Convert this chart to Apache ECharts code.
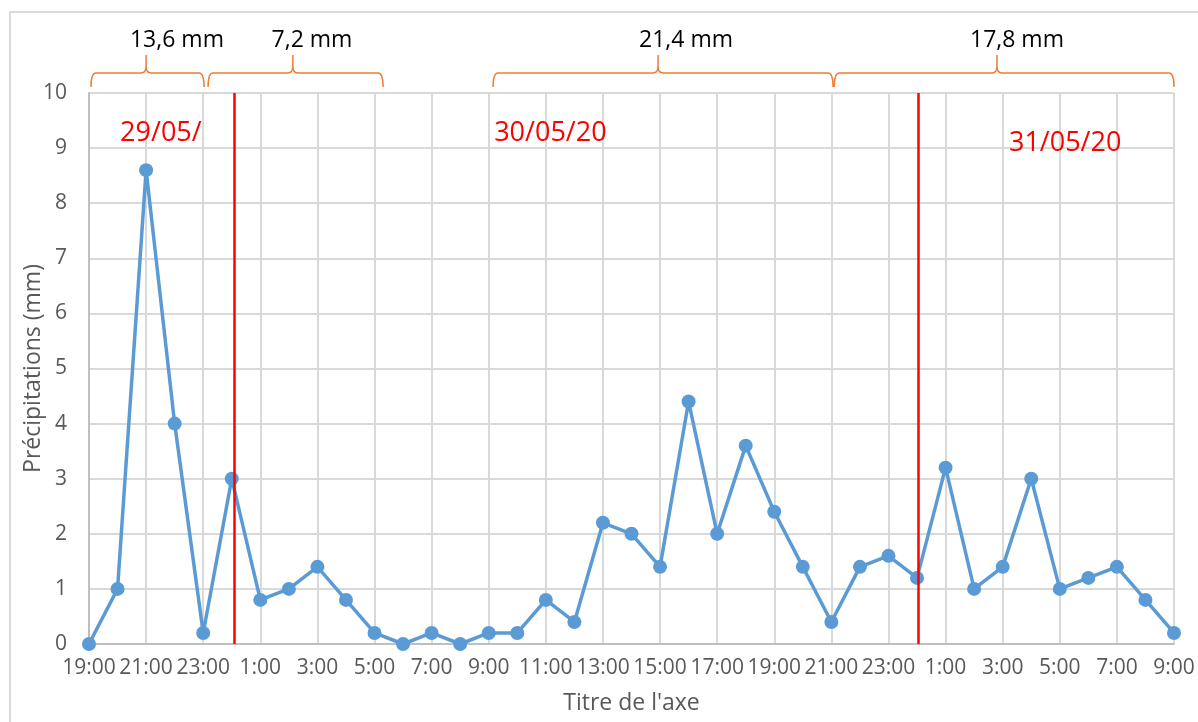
<!DOCTYPE html>
<html><head><meta charset="utf-8">
<script src="https://cdn.jsdelivr.net/npm/echarts@6/dist/echarts.min.js"></script>
<style>html,body{margin:0;padding:0;background:#fff}#c{width:1198px;height:722px}</style>
</head><body><div id="c"></div>
<script>
// Hourly categories (29/05 19:00 -> 31/05 9:00)
const hours = ['19:00','20:00','21:00','22:00','23:00','0:00','1:00','2:00','3:00','4:00','5:00','6:00','7:00','8:00','9:00','10:00','11:00','12:00','13:00','14:00','15:00','16:00','17:00','18:00','19:00','20:00','21:00','22:00','23:00','0:00','1:00','2:00','3:00','4:00','5:00','6:00','7:00','8:00','9:00'];
const precip = [0,1,8.6,4,0.2,3,0.8,1,1.4,0.8,0.2,0,0.2,0,0.2,0.2,0.8,0.4,2.2,2,1.4,4.4,2,3.6,2.4,1.4,0.4,1.4,1.6,1.2,3.2,1,1.4,3,1,1.2,1.4,0.8,0.2];
const yTicks = {min:0, max:10, interval:1};
// Bracket annotations (positions in category-index units)
const braceLabels = ['13,6 mm','7,2 mm','21,4 mm','17,8 mm'];
const braceStart = [0.07, 4.17, 14.15, 26.1];
const braceEnd = [4.03, 10.3, 26.06, 38];
const bracePeak = [2, 7.14, 19.93, 31.8];
const braceLabelX = [3.08, 7.81, 20.91, 32.5];
// Day markers
const dayLabels = ['29/05/','30/05/20','31/05/20'];
const dayLabelX = [1.09, 14.19, 32.22];
const dayLabelY = [9.27, 9.27, 9.09];
const midnightX = [5.08, 29.06];

const chart = echarts.init(document.getElementById('c'));
const FONT = '"Open Sans", sans-serif';
chart.setOption({
  animation:false,
  graphic:[{type:'rect', shape:{x:10,y:12,width:1200,height:730}, style:{fill:'none', stroke:'#d9d9d9', lineWidth:2}, silent:true}],
  grid:{left:89, right:24, top:93, bottom:78, containLabel:false},
  xAxis:[{
    type:'category', data:hours, boundaryGap:false,
    name:"Titre de l'axe", nameLocation:'middle', nameGap:48, nameMoveOverlap:false,
    nameTextStyle:{color:'#595959', fontSize:23, fontFamily:FONT},
    axisLine:{lineStyle:{color:'#bfbfbf', width:2}},
    axisTick:{show:false},
    axisLabel:{interval:1, color:'#595959', fontSize:21, fontFamily:FONT, margin:14},
    splitLine:{show:true, interval:1, lineStyle:{color:'#d9d9d9', width:2}}
  },{
    type:'value', min:0, max:hours.length-1, show:false, splitLine:{show:false}
  }],
  yAxis:{
    type:'value', min:yTicks.min, max:yTicks.max, interval:yTicks.interval,
    name:'Précipitations (mm)', nameLocation:'middle', nameGap:44, nameMoveOverlap:false,
    nameTextStyle:{color:'#595959', fontSize:23, fontFamily:FONT},
    axisLine:{show:true, lineStyle:{color:'#bfbfbf', width:2}},
    axisTick:{show:false},
    axisLabel:{color:'#595959', fontSize:21, fontFamily:FONT, margin:22},
    splitLine:{lineStyle:{color:'#d9d9d9', width:2}}
  },
  series:[{
    type:'line', data:precip, xAxisIndex:0,
    symbol:'circle', symbolSize:14, showSymbol:true,
    lineStyle:{color:'#5b9bd5', width:3.5}, itemStyle:{color:'#5b9bd5'},
    emphasis:{disabled:true}, z:3
  },{
    type:'custom', xAxisIndex:1, yAxisIndex:0, silent:true, clip:false,
    data: braceLabels.map((l,i)=>[braceStart[i], braceEnd[i], bracePeak[i], braceLabelX[i]]),
    renderItem:function(params, api){
      const top = api.coord([0, yTicks.max])[1];
      const x0 = api.coord([api.value(0), yTicks.max])[0];
      const x1 = api.coord([api.value(1), yTicks.max])[0];
      const xp = api.coord([api.value(2), yTicks.max])[0];
      const xl = api.coord([api.value(3), yTicks.max])[0];
      const yb = top-6, yh = top-20, yt = top-38, r = 5;
      const path = `M${x0} ${yb} Q${x0} ${yh} ${x0+r} ${yh} L${xp-r} ${yh} Q${xp} ${yh} ${xp} ${yh-7} L${xp} ${yt} M${xp} ${yh-7} Q${xp} ${yh} ${xp+r} ${yh} L${x1-r} ${yh} Q${x1} ${yh} ${x1} ${yb}`;
      return {type:'group', children:[
        {type:'path', shape:{pathData:path}, style:{fill:'none', stroke:'#ed7d31', lineWidth:1.5}},
        {type:'text', x:xl, y:top-53, style:{text:braceLabels[params.dataIndex], fill:'#000', font:'23px '+FONT, textAlign:'center', textVerticalAlign:'middle'}}
      ]};
    },
    markLine:{silent:true, symbol:'none', label:{show:false},
      lineStyle:{color:'#ff0000', width:2.5, type:'solid'},
      data: midnightX.map(v=>({xAxis:v}))}
  },{
    type:'custom', xAxisIndex:1, yAxisIndex:0, silent:true, clip:false,
    data: dayLabels.map((l,i)=>[dayLabelX[i], dayLabelY[i]]),
    renderItem:function(params, api){
      const p = api.coord([api.value(0), api.value(1)]);
      return {type:'text', x:p[0], y:p[1], style:{text:dayLabels[params.dataIndex], fill:'#ff0000', font:'27px '+FONT, textAlign:'left', textVerticalAlign:'middle'}};
    }
  }]
});
</script></body></html>
